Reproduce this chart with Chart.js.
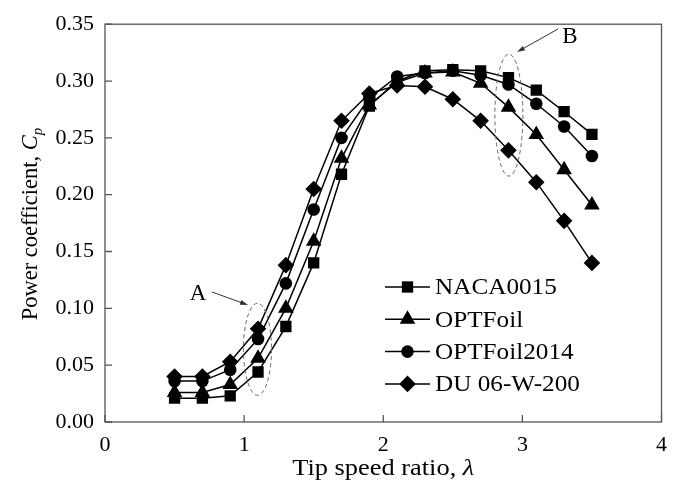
<!DOCTYPE html>
<html>
<head>
<meta charset="utf-8">
<script src="https://cdn.jsdelivr.net/npm/chart.js@4.4.0/dist/chart.umd.min.js"></script>
<style>
  html, body { margin: 0; padding: 0; background: #fff; }
  #wrap { width: 677px; height: 482px; }
</style>
</head>
<body>
<div id="wrap"><canvas id="cpChart" width="677" height="482"></canvas></div>
<script>
// ── Data ─────────────────────────────────────────────────────────
const TSR        = [0.5, 0.7, 0.9, 1.1, 1.3, 1.5, 1.7, 1.9, 2.1, 2.3, 2.5, 2.7, 2.9, 3.1, 3.3, 3.5];
const NACA0015   = [0.021, 0.021, 0.023, 0.044, 0.084, 0.140, 0.218, 0.278, 0.300, 0.309, 0.310, 0.309, 0.303, 0.292, 0.273, 0.253];
const OPTFOIL    = [0.026, 0.026, 0.033, 0.056, 0.100, 0.159, 0.232, 0.279, 0.299, 0.307, 0.308, 0.298, 0.277, 0.253, 0.222, 0.191];
const OPTFOIL14  = [0.036, 0.036, 0.046, 0.073, 0.122, 0.187, 0.250, 0.285, 0.304, 0.307, 0.309, 0.305, 0.297, 0.280, 0.260, 0.234];
const DU06W200   = [0.040, 0.040, 0.053, 0.082, 0.138, 0.205, 0.265, 0.289, 0.296, 0.295, 0.284, 0.265, 0.239, 0.211, 0.177, 0.140];

const SERIES_NAMES  = ["NACA0015", "OPTFoil", "OPTFoil2014", "DU 06-W-200"];
const SERIES_VALUES = [NACA0015, OPTFOIL, OPTFOIL14, DU06W200];
const SERIES_SHAPES = ["rect", "triangle", "circle", "rectRot"];
const SERIES_RADII  = [8, 9, 6.3, 8.3];

const X_TICKS = [0, 1, 2, 3, 4];
const Y_TICKS = [0, 0.05, 0.10, 0.15, 0.20, 0.25, 0.30, 0.35];

// ── Style ────────────────────────────────────────────────────────
const SERIF = '"Liberation Serif", "Times New Roman", serif';
const INK   = "#000";
const FRAME = "#555";

// ── Marker helper (shared by legend) ─────────────────────────────
function drawMarker(ctx, shape, r, x, y) {
    ctx.beginPath();
    if (shape === "rect") {
        const s = Math.SQRT1_2 * r;
        ctx.rect(x - s, y - s, 2 * s, 2 * s);
    } else if (shape === "triangle") {
        ctx.moveTo(x, y - r);
        ctx.lineTo(x + r * 0.866, y + r * 0.5);
        ctx.lineTo(x - r * 0.866, y + r * 0.5);
        ctx.closePath();
    } else if (shape === "circle") {
        ctx.arc(x, y, r, 0, Math.PI * 2);
    } else {
        ctx.moveTo(x - r, y);
        ctx.lineTo(x, y - r);
        ctx.lineTo(x + r, y);
        ctx.lineTo(x, y + r);
        ctx.closePath();
    }
    ctx.fill();
}

function drawArrow(ctx, x1, y1, x2, y2) {
    const a = Math.atan2(y2 - y1, x2 - x1);
    ctx.beginPath();
    ctx.moveTo(x1, y1);
    ctx.lineTo(x2 - 6 * Math.cos(a), y2 - 6 * Math.sin(a));
    ctx.stroke();
    ctx.beginPath();
    ctx.moveTo(x2, y2);
    ctx.lineTo(x2 - 8 * Math.cos(a) + 2.5 * Math.sin(a), y2 - 8 * Math.sin(a) - 2.5 * Math.cos(a));
    ctx.lineTo(x2 - 8 * Math.cos(a) - 2.5 * Math.sin(a), y2 - 8 * Math.sin(a) + 2.5 * Math.cos(a));
    ctx.closePath();
    ctx.fill();
}

// ── Frame, inward ticks, titles, legend, notes ───────────────────
const decorPlugin = {
    id: "decor",
    afterDraw(chart) {
        const ctx = chart.ctx;
        const area = chart.chartArea;
        const xs = chart.scales.x;
        const ys = chart.scales.y;
        ctx.save();

        // frame
        ctx.strokeStyle = FRAME;
        ctx.lineWidth = 1.3;
        ctx.strokeRect(area.left, area.top, area.right - area.left, area.bottom - area.top);

        // inward ticks
        ctx.beginPath();
        X_TICKS.forEach(v => {
            const px = xs.getPixelForValue(v);
            ctx.moveTo(px, area.bottom);
            ctx.lineTo(px, area.bottom - 7);
        });
        Y_TICKS.forEach(v => {
            const py = ys.getPixelForValue(v);
            ctx.moveTo(area.left, py);
            ctx.lineTo(area.left + 7, py);
        });
        ctx.stroke();

        // x title: "Tip speed ratio, λ" (slightly widened like the original)
        ctx.fillStyle = INK;
        ctx.textBaseline = "alphabetic";
        ctx.textAlign = "left";
        const normal = "24px " + SERIF;
        const italic = "italic 24px " + SERIF;
        ctx.save();
        ctx.translate((area.left + area.right) / 2, 475);
        ctx.scale(1.1, 1);
        ctx.font = normal;
        const xt1 = "Tip speed ratio, ";
        const w1 = ctx.measureText(xt1).width;
        ctx.font = italic;
        const w2 = ctx.measureText("\u03bb").width;
        const sx = -(w1 + w2) / 2;
        ctx.font = normal;
        ctx.fillText(xt1, sx, 0);
        ctx.font = italic;
        ctx.fillText("\u03bb", sx + w1, 0);
        ctx.restore();

        // y title: "Power coefficient, Cp"
        ctx.save();
        ctx.translate(37, 224);
        ctx.rotate(-Math.PI / 2);
        ctx.font = "22.5px " + SERIF;
        const yt1 = "Power coefficient, ";
        const yw1 = ctx.measureText(yt1).width;
        ctx.font = "italic 22.5px " + SERIF;
        const yw2 = ctx.measureText("C").width;
        ctx.font = "italic 15px " + SERIF;
        const yw3 = ctx.measureText("p").width;
        const sy = -(yw1 + yw2 + yw3) / 2;
        ctx.font = "22.5px " + SERIF;
        ctx.fillText(yt1, sy, 0);
        ctx.font = "italic 22.5px " + SERIF;
        ctx.fillText("C", sy + yw1, 0);
        ctx.font = "italic 15px " + SERIF;
        ctx.fillText("p", sy + yw1 + yw2, 5);
        ctx.restore();

        // legend
        const legX = 385, legY = 287, legStep = 32.3;
        ctx.font = "24px " + SERIF;
        ctx.textBaseline = "middle";
        ctx.lineWidth = 1.5;
        ctx.strokeStyle = INK;
        SERIES_NAMES.forEach((name, i) => {
            const y = legY + i * legStep;
            ctx.beginPath();
            ctx.moveTo(legX, y);
            ctx.lineTo(legX + 45, y);
            ctx.stroke();
            drawMarker(ctx, SERIES_SHAPES[i], SERIES_RADII[i], legX + 22.5, y);
            ctx.save();
            ctx.translate(legX + 50, y + 1);
            ctx.scale(1.05, 1);
            ctx.fillText(name, 0, 0);
            ctx.restore();
        });

        // notes A and B
        ctx.strokeStyle = "#666";
        ctx.lineWidth = 1;
        ctx.setLineDash([4, 3]);
        const notes = [
            { x: 1.096, y: 0.064, rx: 14, ry: 46 },
            { x: 2.903, y: 0.270, rx: 14, ry: 61 },
        ];
        notes.forEach(n => {
            ctx.beginPath();
            ctx.ellipse(xs.getPixelForValue(n.x), ys.getPixelForValue(n.y), n.rx, n.ry, 0, 0, Math.PI * 2);
            ctx.stroke();
        });
        ctx.setLineDash([]);
        ctx.strokeStyle = "#333";
        ctx.fillStyle = "#333";
        drawArrow(ctx, 212, 292, 248, 305);
        drawArrow(ctx, 558, 29, 517, 52);
        ctx.fillStyle = INK;
        ctx.font = "23px " + SERIF;
        ctx.textAlign = "center";
        ctx.textBaseline = "alphabetic";
        ctx.fillText("A", 198, 300);
        ctx.fillText("B", 570, 43);

        ctx.restore();
    }
};

// ── Chart ────────────────────────────────────────────────────────
const datasets = SERIES_NAMES.map((name, i) => ({
    label: name,
    data: TSR.map((x, k) => ({ x: x, y: SERIES_VALUES[i][k] })),
    borderColor: INK,
    backgroundColor: INK,
    borderWidth: 1.5,
    pointStyle: SERIES_SHAPES[i],
    pointRadius: SERIES_RADII[i],
    pointBorderWidth: 0,
    pointBackgroundColor: INK,
    tension: 0,
    fill: false,
}));

new Chart(document.getElementById("cpChart").getContext("2d"), {
    type: "line",
    data: { datasets },
    options: {
        responsive: false,
        animation: false,
        devicePixelRatio: 1,
        layout: { padding: { left: 0, top: 15, right: 15, bottom: 0 } },
        plugins: {
            legend: { display: false },
            tooltip: { enabled: false },
        },
        scales: {
            x: {
                type: "linear",
                min: 0,
                max: 4,
                grid: { display: false, drawTicks: false },
                border: { display: false },
                afterFit: (s) => { s.height = 60; },
                afterBuildTicks: (s) => { s.ticks = X_TICKS.map(v => ({ value: v })); },
                ticks: {
                    autoSkip: false,
                    maxRotation: 0,
                    padding: 10,
                    color: INK,
                    font: { family: SERIF, size: 22 },
                    callback: (v) => String(v),
                },
            },
            y: {
                type: "linear",
                min: 0,
                max: 0.35,
                grid: { display: false, drawTicks: false },
                border: { display: false },
                afterFit: (s) => { s.width = 105; },
                afterBuildTicks: (s) => { s.ticks = Y_TICKS.map(v => ({ value: v })); },
                ticks: {
                    autoSkip: false,
                    padding: 11,
                    color: INK,
                    font: { family: SERIF, size: 22 },
                    callback: (v) => Number(v).toFixed(2),
                },
            },
        },
    },
    plugins: [decorPlugin],
});
</script>
</body>
</html>
